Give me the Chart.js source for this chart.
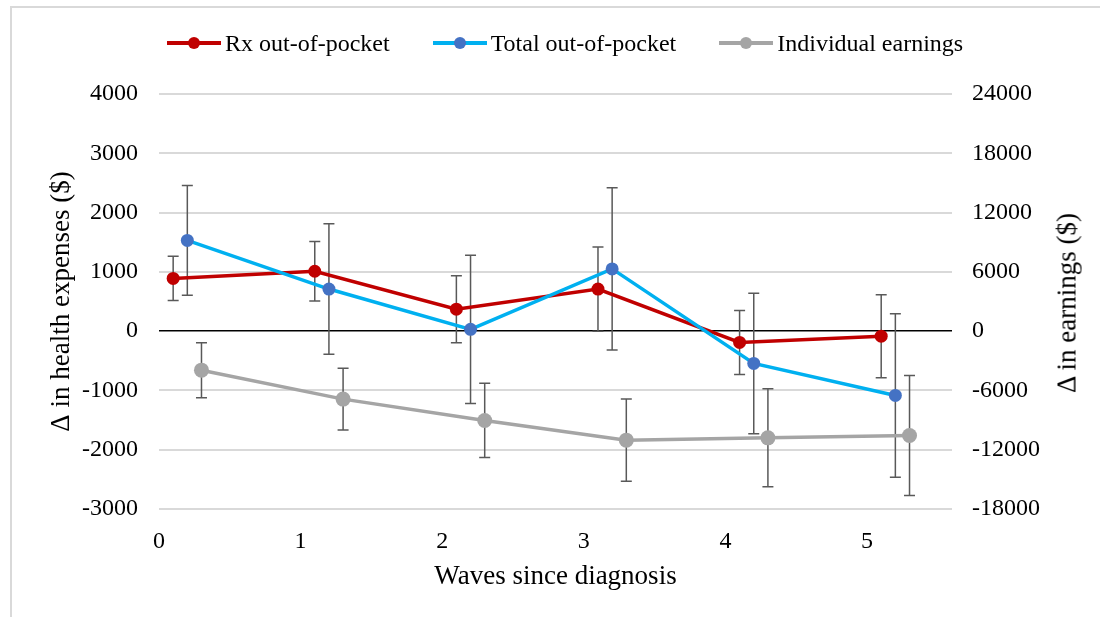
<!DOCTYPE html>
<html>
<head>
<meta charset="utf-8">
<script src="https://cdn.jsdelivr.net/npm/chart.js@4.4.1/dist/chart.umd.min.js"></script>
<style>
    html, body { margin: 0; padding: 0; background: #fff; }
    #wrap { position: relative; width: 1100px; height: 617px; overflow: hidden;
            font-family: "Liberation Serif", "Times New Roman", serif; color: #000; }
    #frame { position: absolute; left: 10px; top: 6px; right: -10px; bottom: -10px;
             border-left: 2px solid #D9D9D9; border-top: 2px solid #D9D9D9; }
    #chart { position: absolute; left: 0; top: 0; }
    #legend { position: absolute; left: 167px; top: 29px; display: flex; gap: 43px; font-size: 24px; }
    .item { display: flex; align-items: center; white-space: nowrap; }
    .swatch { position: relative; width: 54px; height: 28px; margin-right: 4px; }
    .swatch .ln { position: absolute; left: 0; right: 0; top: 12px; height: 4px; }
    .swatch .dot { position: absolute; left: 21px; top: 8px; width: 12px; height: 12px; border-radius: 50%; }
    #rightTitle { position: absolute; left: 1067px; top: 303px; font-size: 27px; white-space: nowrap;
                  transform: translate(-50%, -50%) rotate(-90deg); }
</style>
</head>
<body>
<div id="wrap">
    <div id="frame"></div>
    <canvas id="chart" width="1100" height="617"></canvas>
    <div id="legend">
        <div class="item"><div class="swatch"><div class="ln" style="background:#C00000"></div><div class="dot" style="background:#C00000"></div></div>Rx out-of-pocket</div>
        <div class="item"><div class="swatch"><div class="ln" style="background:#00B0F0"></div><div class="dot" style="background:#4472C4"></div></div>Total out-of-pocket</div>
        <div class="item"><div class="swatch"><div class="ln" style="background:#A5A5A5"></div><div class="dot" style="background:#A5A5A5"></div></div>Individual earnings</div>
    </div>
    <div id="rightTitle">Δ in earnings ($)</div>
</div>
<script>
// x positions (waves since diagnosis, offset per series as in the original)
const rxX = [0.1, 1.1, 2.1, 3.1, 4.1, 5.1];
const totalX = [0.2, 1.2, 2.2, 3.2, 4.2, 5.2];
const earnX = [0.3, 1.3, 2.3, 3.3, 4.3, 5.3];

// Rx out-of-pocket ($), with error bar half-widths
const rxValues = [890, 1010, 370, 710, -190, -85];
const rxErrors = [375, 500, 565, 710, 540, 700];

// Total out-of-pocket ($)
const totalValues = [1530, 710, 30, 1050, -545, -1085];
const totalErrors = [925, 1100, 1250, 1370, 1185, 1380];

// Individual earnings ($, right axis)
const earnValues = [-3950, -6880, -9040, -11030, -10800, -10560];
const earnErrors = [2780, 3120, 3760, 4170, 4960, 6080];

const leftTicks = [-3000, -2000, -1000, 0, 1000, 2000, 3000, 4000];
const rightTicks = [-18000, -12000, -6000, 0, 6000, 12000, 18000, 24000];
const xTicks = [0, 1, 2, 3, 4, 5];

const font = { family: '"Liberation Serif", "Times New Roman", serif', size: 24 };
const titleFont = { ...font, size: 27 };
const toPoints = (xs, ys) => xs.map((x, i) => ({ x: x, y: ys[i] }));
const plain = (v) => String(v);

// Draw vertical error bars with caps through the chart's own scales
const errorBars = {
    id: 'errorBars',
    beforeDatasetsDraw(chart) {
        const ctx = chart.ctx;
        const xScale = chart.scales.x;
        ctx.save();
        ctx.strokeStyle = '#595959';
        ctx.lineWidth = 1.5;
        chart.data.datasets.forEach((ds) => {
            const yScale = chart.scales[ds.yAxisID];
            ds.data.forEach((p, i) => {
                const err = ds.errors[i];
                const px = xScale.getPixelForValue(p.x);
                const top = yScale.getPixelForValue(p.y + err);
                const bot = yScale.getPixelForValue(p.y - err);
                ctx.beginPath();
                ctx.moveTo(px, top);
                ctx.lineTo(px, bot);
                ctx.moveTo(px - 5.5, top);
                ctx.lineTo(px + 5.5, top);
                ctx.moveTo(px - 5.5, bot);
                ctx.lineTo(px + 5.5, bot);
                ctx.stroke();
            });
        });
        ctx.restore();
    }
};

new Chart(document.getElementById('chart'), {
    type: 'line',
    data: {
        datasets: [
            {
                label: 'Rx out-of-pocket',
                data: toPoints(rxX, rxValues),
                errors: rxErrors,
                yAxisID: 'y',
                borderColor: '#C00000',
                backgroundColor: '#C00000',
                borderWidth: 3.5,
                pointRadius: 6.5,
                pointBorderWidth: 0,
                order: 1
            },
            {
                label: 'Total out-of-pocket',
                data: toPoints(totalX, totalValues),
                errors: totalErrors,
                yAxisID: 'y',
                borderColor: '#00B0F0',
                backgroundColor: '#4472C4',
                borderWidth: 3.5,
                pointRadius: 6.5,
                pointBorderWidth: 0,
                order: 0
            },
            {
                label: 'Individual earnings',
                data: toPoints(earnX, earnValues),
                errors: earnErrors,
                yAxisID: 'y2',
                borderColor: '#A5A5A5',
                backgroundColor: '#A5A5A5',
                borderWidth: 3.5,
                pointRadius: 7.5,
                pointBorderWidth: 0,
                order: 2
            }
        ]
    },
    options: {
        responsive: false,
        animation: false,
        layout: { padding: { left: 46, right: 26, top: 94, bottom: 24 } },
        plugins: {
            legend: { display: false },
            tooltip: { enabled: false }
        },
        scales: {
            x: {
                type: 'linear',
                min: 0,
                max: 5.6,
                afterBuildTicks: (s) => { s.ticks = xTicks.map((v) => ({ value: v })); },
                afterFit: (s) => { s.height = 84; },
                grid: { display: false },
                border: { display: false },
                ticks: { color: '#000', font: font, padding: 10, maxRotation: 0, callback: plain },
                title: { display: true, text: 'Waves since diagnosis', color: '#000', font: titleFont, padding: 0 }
            },
            y: {
                position: 'left',
                min: -3000,
                max: 4000,
                afterBuildTicks: (s) => { s.ticks = leftTicks.map((v) => ({ value: v })); },
                afterFit: (s) => { s.width = 113; },
                grid: {
                    drawTicks: false,
                    color: (c) => (c.tick.value === 0 ? '#000' : '#D9D9D9'),
                    lineWidth: (c) => (c.tick.value === 0 ? 1.5 : 2)
                },
                border: { display: false },
                ticks: { color: '#000', font: font, padding: 21, callback: plain },
                title: { display: true, text: 'Δ in health expenses ($)', color: '#000', font: titleFont, padding: 0 }
            },
            y2: {
                position: 'right',
                min: -18000,
                max: 24000,
                afterBuildTicks: (s) => { s.ticks = rightTicks.map((v) => ({ value: v })); },
                afterFit: (s) => { s.width = 122; },
                grid: { display: false, drawTicks: false },
                border: { display: false },
                ticks: { color: '#000', font: font, padding: 20, callback: plain }
            }
        }
    },
    plugins: [errorBars]
});
</script>
</body>
</html>
